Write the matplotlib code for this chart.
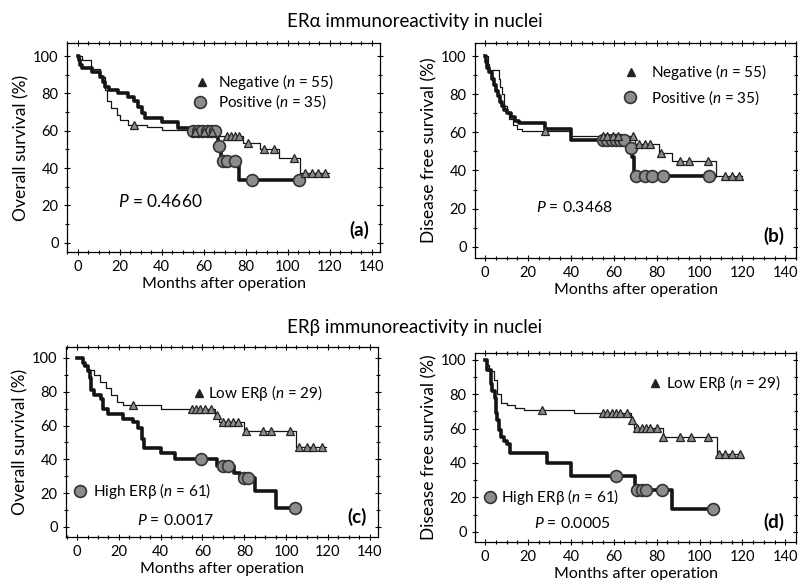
import numpy as np
import matplotlib
matplotlib.use('Agg')
import matplotlib.pyplot as plt
from matplotlib.ticker import MultipleLocator

plt.rcParams['font.family'] = ['Lato', 'DejaVu Sans']
plt.rcParams['mathtext.fontset'] = 'custom'
plt.rcParams['mathtext.rm'] = 'Lato'
plt.rcParams['mathtext.it'] = 'Lato:italic'

# (a) overall survival, ERa
a_neg_t = [0, 2, 6.5, 10.5, 13, 14, 16, 18.6, 20, 24, 33, 40, 55, 66, 79, 87, 96, 106]
a_neg_s = [100, 98, 93, 89, 82, 76, 72, 68.5, 66, 63, 62, 60.4, 59.5, 57, 53.5, 50, 45.5, 37.5]
a_neg_end = 119.5
a_neg_cens = [27, 56, 60, 64, 71, 73, 75, 77, 81, 89, 93.5, 103, 108.5, 111.5, 114.5, 118]
a_pos_t = [0, 0.5, 1, 2, 6.7, 10.5, 12, 13, 15, 19.5, 24, 27, 29, 30.6, 32, 40, 48, 53, 67, 68.5, 77]
a_pos_s = [100, 98, 95, 93.5, 91.4, 89, 86, 83.4, 81.8, 80, 78, 76, 72.7, 69.5, 67, 64.7, 61.5, 60, 52, 44, 33.5]
a_pos_end = 106
a_pos_cens = [55, 57.5, 59.5, 61.5, 63.5, 65.5, 67.5, 69.5, 71, 75, 83, 105.5]

# (b) disease free survival, ERa
b_neg_t = [0, 1.5, 2, 6.5, 7, 8, 9, 10, 11, 13, 15, 17, 40, 70, 81, 87, 107.5]
b_neg_s = [100, 96, 93, 88, 84, 80, 74, 70, 67, 64, 62, 61, 58, 54, 49, 45, 37]
b_neg_end = 120
b_neg_cens = [28, 55, 57, 59.5, 62, 69, 72, 74.5, 77, 82, 91, 95, 104, 112, 115, 118.5]
b_pos_t = [0, 0.5, 1, 2, 3, 4, 5, 6, 7, 8, 9, 10, 12, 14, 16, 28, 40, 67, 68.5, 69.5]
b_pos_s = [100, 97, 94, 92, 88, 85, 82, 79, 76, 74, 72, 70, 68, 66, 65, 62, 56, 52, 47, 37]
b_pos_end = 107
b_pos_cens = [55, 57, 59, 61, 63, 65, 68, 70.5, 74.5, 78, 83, 104.5]

# (c) overall survival, ERb
c_low_t = [0, 3, 5, 8, 11, 14, 16, 19, 22, 40, 66, 68, 80, 105]
c_low_s = [100, 95, 93, 90, 86, 82, 78, 74, 72, 70, 66, 62, 56.5, 47.5]
c_low_end = 119
c_low_cens = [27, 55, 57, 59, 61, 64, 67, 70, 72, 74.5, 77, 81, 89, 93, 102, 106, 110, 113, 117]
c_high_t = [0, 3, 4, 5, 6, 6.7, 8, 11.5, 12.5, 15, 22, 27, 29, 31, 32, 40, 47, 67, 75, 78, 85, 95]
c_high_s = [100, 97, 95, 92, 88, 81, 78, 76, 70, 67, 64, 62, 58.5, 52, 46.5, 44, 40, 36, 32, 29, 21, 11]
c_high_end = 105
c_high_cens = [59.5, 70, 72, 80, 82, 104.5]

# (d) disease free survival, ERb
d_low_t = [0, 1, 2, 4, 5.6, 7.3, 10, 14, 18, 41.5, 68, 69.5, 83, 108]
d_low_s = [100, 97, 93.6, 88, 80, 75, 74, 72, 71, 69, 65, 60.5, 55, 45.5]
d_low_end = 120
d_low_cens = [26.6, 55, 57, 59, 61, 63, 66, 68.5, 71, 73, 75, 77, 80, 83, 91, 96, 104, 109, 112, 115, 119]
d_high_t = [0, 1, 2.8, 3.3, 4.5, 5, 5.6, 6.5, 7.3, 8.8, 10, 11.8, 29, 40, 70, 87]
d_high_s = [100, 94, 86, 82, 78, 69, 65, 59, 55, 53, 51, 46, 40, 32.5, 24, 13]
d_high_end = 107
d_high_cens = [61, 71, 73, 75, 82.5, 106.5]

xticks = [0, 20, 40, 60, 80, 100, 120, 140]
yticks = [0, 20, 40, 60, 80, 100]

LINE = '#151515'
GREY = '#8c8c8c'


def km(ax, t, s, end, cens, thick, marker):
    t = np.array(t + [end])
    s = np.array(s + [s[-1]])
    lw = 2.6 if thick else 0.9
    ax.step(t, s, where='post', color=LINE, lw=lw, zorder=3 if thick else 2)
    c = np.array(cens)
    cy = s[np.searchsorted(t, c, side='right') - 1]
    if marker == 'o':
        ax.plot(c, cy, 'o', ms=8.5, mfc=GREY, mec='#333333', mew=1.2, zorder=4)
    else:
        ax.plot(c, cy, '^', ms=6, mfc=GREY, mec='#222222', mew=0.9, zorder=5)


def setup(ax, xlim, ylim, ylabel, letter):
    ax.set_xlim(*xlim)
    ax.set_ylim(*ylim)
    ax.set_xticks(xticks)
    ax.set_yticks(yticks)
    ax.xaxis.set_minor_locator(MultipleLocator(5))
    ax.yaxis.set_minor_locator(MultipleLocator(10))
    ax.tick_params(which='both', direction='inout', top=True, right=True,
                   labelsize=10.5, width=0.8)
    ax.tick_params(which='major', length=5)
    ax.tick_params(which='minor', length=3)
    for sp in ax.spines.values():
        sp.set_linewidth(0.9)
    ax.set_xlabel('Months after operation', fontsize=11.5, labelpad=2)
    ax.set_ylabel(ylabel, fontsize=12.5, labelpad=3)
    ax.text(0.965, 0.06, letter, transform=ax.transAxes, ha='right', va='bottom',
            fontsize=13.5, fontweight='bold')


def legend_entry(ax, x, y, tx, marker, label):
    if marker == 'o':
        ax.plot([x], [y], 'o', ms=8.5, mfc=GREY, mec='#333333', mew=1.2, clip_on=False)
    else:
        ax.plot([x], [y], '^', ms=6, mfc='#222222', mec='#222222', clip_on=False)
    ax.text(tx, y, label, ha='left', va='center', fontsize=11)


fig = plt.figure(figsize=(7.98, 5.80), dpi=100)
W, H = 798.0, 580.0


def add_axes(l, r, t, b):
    return fig.add_axes([l / W, 1 - b / H, (r - l) / W, (b - t) / H])


ax_a = add_axes(67, 380, 43, 252)
ax_b = add_axes(475, 796, 43, 258)
ax_c = add_axes(66, 378, 347, 537)
ax_d = add_axes(475, 796, 353, 542)

# (a)
km(ax_a, a_neg_t, a_neg_s, a_neg_end, a_neg_cens, False, '^')
km(ax_a, a_pos_t, a_pos_s, a_pos_end, a_pos_cens, True, 'o')
setup(ax_a, (-5, 144), (-5, 107), 'Overall survival (%)', '(a)')
legend_entry(ax_a, 59.5, 86, 67, '^', r'Negative ($\it{n}$ = 55)')
legend_entry(ax_a, 58.5, 75.5, 67, 'o', r'Positive ($\it{n}$ = 35)')
ax_a.text(39.5, 22, r'$\it{P}$ = 0.4660', ha='center', va='center', fontsize=12.5)

# (b)
km(ax_b, b_neg_t, b_neg_s, b_neg_end, b_neg_cens, False, '^')
km(ax_b, b_pos_t, b_pos_s, b_pos_end, b_pos_cens, True, 'o')
setup(ax_b, (-4.7, 145), (-6, 107), 'Disease free survival (%)', '(b)')
legend_entry(ax_b, 68, 91.5, 77.5, '^', r'Negative ($\it{n}$ = 55)')
legend_entry(ax_b, 67.5, 78.5, 77.5, 'o', r'Positive ($\it{n}$ = 35)')
ax_b.text(41.5, 20.5, r'$\it{P}$ = 0.3468', ha='center', va='center', fontsize=11.3)

# (c)
km(ax_c, c_low_t, c_low_s, c_low_end, c_low_cens, False, '^')
km(ax_c, c_high_t, c_high_s, c_high_end, c_high_cens, True, 'o')
setup(ax_c, (-5.3, 144), (-6, 106.5), 'Overall survival (%)', '(c)')
legend_entry(ax_c, 58.3, 79, 62.6, '^', r'Low ERβ ($\it{n}$ = 29)')
legend_entry(ax_c, 1.5, 21.3, 7.8, 'o', r'High ERβ ($\it{n}$ = 61)')
ax_c.text(47, 3.5, r'$\it{P}$ = 0.0017', ha='center', va='center', fontsize=11.3)

# (d)
km(ax_d, d_low_t, d_low_s, d_low_end, d_low_cens, False, '^')
km(ax_d, d_high_t, d_high_s, d_high_end, d_high_cens, True, 'o')
setup(ax_d, (-4.7, 145), (-6, 104), 'Disease free survival (%)', '(d)')
legend_entry(ax_d, 79.3, 86.7, 84.5, '^', r'Low ERβ ($\it{n}$ = 29)')
legend_entry(ax_d, 2.3, 20.2, 7.5, 'o', r'High ERβ ($\it{n}$ = 61)')
ax_d.text(40.6, 4.8, r'$\it{P}$ = 0.0005', ha='center', va='center', fontsize=11.3)

fig.text(415 / W, 1 - 21 / H, 'ERα immunoreactivity in nuclei', ha='center', va='center', fontsize=13.5)
fig.text(415 / W, 1 - 328 / H, 'ERβ immunoreactivity in nuclei', ha='center', va='center', fontsize=13.5)

fig.savefig('out.png', dpi=100, facecolor='white')
